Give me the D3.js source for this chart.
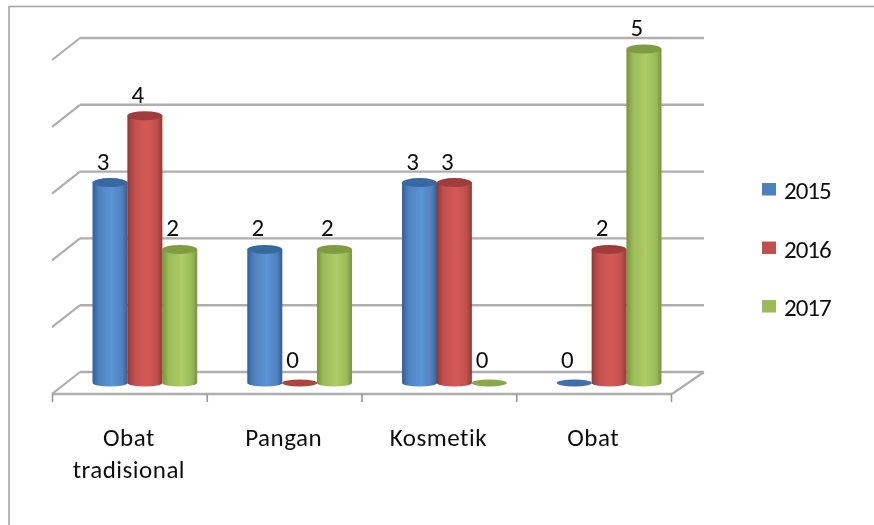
<!DOCTYPE html>
<html><head><meta charset="utf-8">
<script src="https://cdn.jsdelivr.net/npm/d3@7/dist/d3.min.js"></script>
<style>html,body{margin:0;padding:0;background:#fff}svg{display:block}text{font-family:Carlito,Lato,"Open Sans",sans-serif;fill:#111}</style>
</head><body><svg id="c" width="874" height="525"></svg>
<script>
const categories = ["Obat tradisional","Pangan","Kosmetik","Obat"];
const categoryLines = [["Obat","tradisional"],["Pangan"],["Kosmetik"],["Obat"]];
const seriesNames = ["2015","2016","2017"];
const v2015 = [3,2,3,0];
const v2016 = [4,0,3,2];
const v2017 = [2,2,0,5];
const yTicks = [0,1,2,3,4,5];
const colors = {"2015":"#4f81bd","2016":"#c0504d","2017":"#9bbb59"};
const light = {"2015":"#5b94d6","2016":"#d65a57","2017":"#aecb66"};
const dark = {"2015":"#2f5f96","2016":"#933835","2017":"#76923c"};
const values = {"2015":v2015,"2016":v2016,"2017":v2017};

const svg = d3.select("#c");
const defs = svg.append("defs");
seriesNames.forEach(s=>{
  const g = defs.append("linearGradient").attr("id","g"+s);
  [[0,dark[s]],[.18,colors[s]],[.55,light[s]],[.85,colors[s]],[1,dark[s]]].forEach(([o,c])=>g.append("stop").attr("offset",o).attr("stop-color",c));
});
const blur = defs.append("filter").attr("id","soft").attr("x","-5%").attr("y","-5%").attr("width","110%").attr("height","110%");
blur.append("feGaussianBlur").attr("stdDeviation",0.7);
const blurT = defs.append("filter").attr("id","softT").attr("x","-5%").attr("y","-5%").attr("width","110%").attr("height","110%");
blurT.append("feGaussianBlur").attr("stdDeviation",0.3);

// chart frame
svg.append("rect").attr("x",9).attr("y",6.5).attr("width",866).attr("height",530).attr("fill","#fff").attr("stroke","#a6a6a6").attr("stroke-width",1.6);

const depthY = 22;
const y = d3.scaleLinear().domain([0,5]).range([372,38]);     // back wall
const xFront = d3.scaleBand().domain(categories).range([52.5,671.5]);
const xBack = d3.scaleBand().domain(categories).range([66.5,685.5]);
const xSeries = d3.scaleBand().domain(seriesNames).range([0,104.5]);
const barY = d3.scaleLinear().domain([0,5]).range([383,49]);

const plot = svg.append("g").attr("filter","url(#soft)");
const gridStroke = "#aeaeae";
plot.selectAll("line.grid").data(yTicks).join("line").attr("class","grid")
  .attr("x1",80).attr("x2",704).attr("y1",d=>y(d)).attr("y2",d=>y(d))
  .attr("stroke",gridStroke).attr("stroke-width",2.4);
plot.selectAll("line.side").data(yTicks).join("line").attr("class","side")
  .attr("x1",52).attr("x2",80).attr("y1",d=>y(d)+depthY).attr("y2",d=>y(d))
  .attr("stroke",gridStroke).attr("stroke-width",2.2);
// floor outline
plot.append("line").attr("x1",52).attr("x2",672).attr("y1",394).attr("y2",394).attr("stroke",gridStroke).attr("stroke-width",2.4);
plot.append("line").attr("x1",672).attr("x2",704).attr("y1",394).attr("y2",372).attr("stroke",gridStroke).attr("stroke-width",2.2);
// front ticks
const tickXs = categories.map(c=>xFront(c)).concat([xFront.range()[1]]);
plot.selectAll("line.tick").data(tickXs).join("line").attr("class","tick")
  .attr("x1",d=>d).attr("x2",d=>d).attr("y1",394).attr("y2",402)
  .attr("stroke","#999").attr("stroke-width",1.6);

const rx = 17.5, ry = 3.5, capRy = 4.5;
const bars = [];
categories.forEach((c,i)=>seriesNames.forEach(s=>bars.push({c,s,v:values[s][i]})));
const barCx = d => xBack(d.c)+xBack.bandwidth()/2-51.25+xSeries(d.s)+xSeries.bandwidth()/2;
const barG = plot.selectAll("g.bar").data(bars).join("g").attr("class","bar")
  .attr("transform",d=>`translate(${barCx(d)},0)`);
barG.filter(d=>d.v>0).append("path")
  .attr("d",d=>{const t=barY(d.v),b=barY(0);return `M${-rx},${t}L${-rx},${b}A${rx},${ry} 0 0 0 ${rx},${b}L${rx},${t}Z`;})
  .attr("fill",d=>`url(#g${d.s})`);
barG.append("ellipse").attr("cx",0).attr("cy",d=>barY(d.v)).attr("rx",rx).attr("ry",d=>d.v>0?capRy:3.4)
  .attr("fill",d=>d.v>0?d3.interpolateRgb(dark[d.s],colors[d.s])(.25):d3.interpolateRgb(dark[d.s],colors[d.s])(.5));

const txt = svg.append("g").attr("filter","url(#softT)");
// data labels
txt.selectAll("text.val").data(bars).join("text").attr("class","val")
  .attr("x",d=>barCx(d)-7)
  .attr("y",d=>barY(d.v)-(d.v>0?13:15))
  .attr("text-anchor","middle").attr("font-size",25).text(d=>d.v);

// category labels
const cat = txt.selectAll("text.cat").data(categories).join("text").attr("class","cat")
  .attr("text-anchor","middle").attr("font-size",25).attr("letter-spacing",0.5)
  .attr("x",d=>xFront(d)+xFront.bandwidth()/2-1);
cat.selectAll("tspan").data((d,i)=>categoryLines[i]).join("tspan")
  .attr("x",function(){return d3.select(this.parentNode).attr("x")})
  .attr("y",(d,i)=>446+i*32).text(d=>d);

// legend
const legY = d3.scalePoint().domain(seriesNames).range([191,308]);
const leg = txt.selectAll("g.leg").data(seriesNames).join("g").attr("class","leg").attr("transform",d=>`translate(0,${legY(d)})`);
leg.append("rect").attr("x",762).attr("y",-8).attr("width",14).attr("height",12.5).attr("fill",d=>colors[d]);
leg.append("text").attr("x",784).attr("y",8).attr("font-size",25).attr("letter-spacing",-1).text(d=>d);
</script></body></html>
